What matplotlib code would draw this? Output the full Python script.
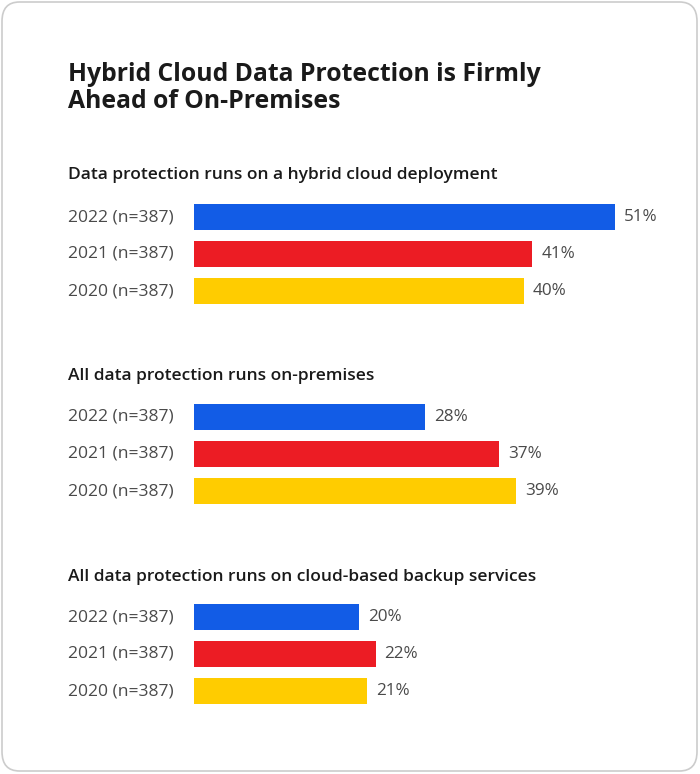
import matplotlib
matplotlib.use("Agg")
import matplotlib.pyplot as plt
from matplotlib.patches import FancyBboxPatch
from matplotlib.transforms import blended_transform_factory

title = "Hybrid Cloud Data Protection is Firmly\nAhead of On-Premises"
sections = [
    "Data protection runs on a hybrid cloud deployment",
    "All data protection runs on-premises",
    "All data protection runs on cloud-based backup services",
]
years = ["2022 (n=387)", "2021 (n=387)", "2020 (n=387)"]
hybrid = [51, 41, 40]
onprem = [28, 37, 39]
cloud_backup = [20, 22, 21]
values = [hybrid, onprem, cloud_backup]
colors = ["#125CE6", "#EC1C24", "#FFCC00"]

W, H = 700, 774
fig = plt.figure(figsize=(W / 100, H / 100), dpi=100)
fig.patch.set_facecolor("white")

def fx(px):
    return px / W

def fy(py):
    return 1 - py / H

card = FancyBboxPatch((fx(2), fy(771)), fx(695), (769) / H,
                      boxstyle="round,pad=0,rounding_size=0.025",
                      transform=fig.transFigure, facecolor="white",
                      edgecolor="#cccccc", linewidth=1.2, zorder=-10)
fig.patches.append(card)

FONT = "Open Sans"
fig.text(fx(68), fy(62), title, fontsize=17.8, fontweight="bold", family=FONT,
         color="#1a1a1a", va="top", ha="left", linespacing=1.1)

sec_title_y = [175, 376, 577]
first_bar_center = [217, 417, 617]
step = 37
px_per_unit = 8.25
xmax = 60
ax_left = 194

for i, (st, vals) in enumerate(zip(sections, values)):
    fig.text(fx(68), fy(sec_title_y[i]), st, fontsize=12.5, fontweight="semibold",
             family=FONT, color="#1a1a1a", va="center", ha="left")
    top = first_bar_center[i] - step / 2
    ax = fig.add_axes([fx(ax_left), fy(top + 3 * step), xmax * px_per_unit / W, 3 * step / H])
    ax.set_zorder(1)
    ypos = list(range(len(years)))
    ax.barh(ypos, vals, height=26 / step, color=colors, edgecolor="none")
    ax.set_xlim(0, xmax)
    ax.set_ylim(2.5, -0.5)
    ax.axis("off")
    tr = blended_transform_factory(fig.transFigure, ax.transData)
    for y, lab, v in zip(ypos, years, vals):
        ax.text(fx(68), y, lab, transform=tr, fontsize=12.6, family=FONT,
                color="#4a4a4a", va="center", ha="left")
        ax.annotate(f"{v}%", (v, y), xytext=(6.5, 0), textcoords="offset points",
                    fontsize=12.3, family=FONT, color="#4a4a4a", va="center", ha="left")

fig.savefig("out.png", dpi=100, facecolor="white")
